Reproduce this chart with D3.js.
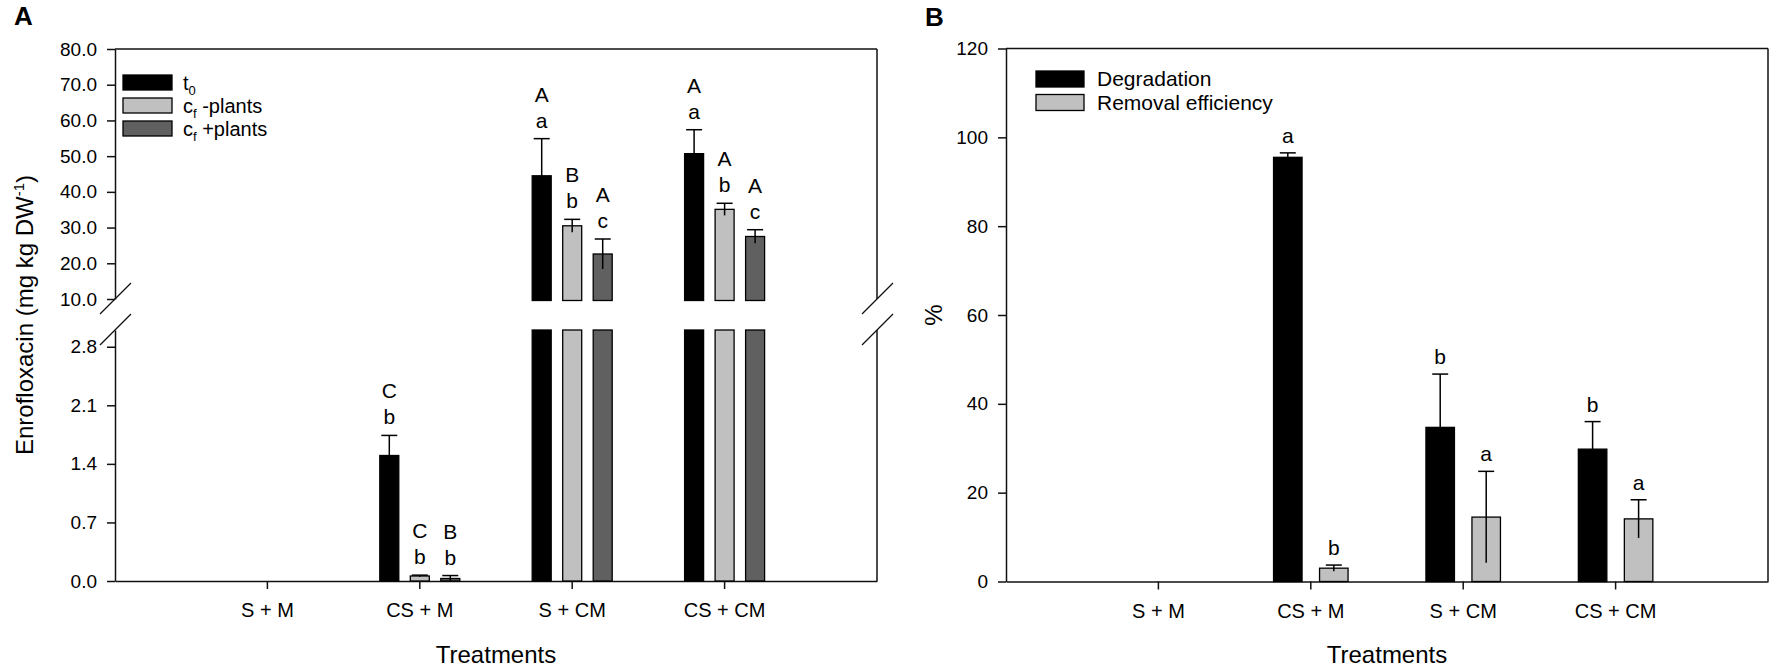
<!DOCTYPE html>
<html>
<head>
<meta charset="utf-8">
<script src="https://cdnjs.cloudflare.com/ajax/libs/d3/7.8.5/d3.min.js"></script>
<style>
  body { margin: 0; background: #fff; }
  svg { font-family: "Liberation Sans", Arial, sans-serif; }
  .axis path, .axis line { stroke: #111; stroke-width: 1.5; }
  .axis text { font-size: 19px; fill: #000; }
</style>
</head>
<body>
<svg id="chart" width="1772" height="669"></svg>
<script>
// ---- data ----
var categories = ["S + M", "CS + M", "S + CM", "CS + CM"];

// panel A: enrofloxacin (mg kg DW-1)
var t0Values      = [0, 1.50, 44.5, 50.7];
var t0Errors      = [0, 0.24, 10.4, 6.7];
var cfMinusValues = [0, 0.06, 30.5, 35.1];
var cfMinusErrors = [0, 0.01, 1.8, 1.7];
var cfPlusValues  = [0, 0.03, 22.6, 27.5];
var cfPlusErrors  = [0, 0.035, 4.2, 1.9];
var t0Upper       = ["", "C", "A", "A"];
var t0Lower       = ["", "b", "a", "a"];
var cfMinusUpper  = ["", "C", "B", "A"];
var cfMinusLower  = ["", "b", "b", "b"];
var cfPlusUpper   = ["", "B", "A", "A"];
var cfPlusLower   = ["", "b", "c", "c"];
var upperTicksA = [10, 20, 30, 40, 50, 60, 70, 80];
var lowerTicksA = [0, 0.7, 1.4, 2.1, 2.8];
var legendA = [["t", "0", ""], ["c", "f", " -plants"], ["c", "f", " +plants"]];

// panel B: %
var degradationValues = [0, 95.5, 34.7, 29.8];
var degradationErrors = [0, 1.0, 12.0, 6.2];
var removalValues     = [0, 3.0, 14.5, 14.1];
var removalErrors     = [0, 0.7, 10.3, 4.3];
var degradationLetters = ["", "a", "b", "b"];
var removalLetters     = ["", "b", "a", "a"];
var ticksB = [0, 20, 40, 60, 80, 100, 120];
var legendB = ["Degradation", "Removal efficiency"];

var svg = d3.select("#chart");

var seriesA = [
    { values: t0Values, errors: t0Errors, up: t0Upper, low: t0Lower, fill: "#000000" },
    { values: cfMinusValues, errors: cfMinusErrors, up: cfMinusUpper, low: cfMinusLower, fill: "#c0c0c0" },
    { values: cfPlusValues, errors: cfPlusErrors, up: cfPlusUpper, low: cfPlusLower, fill: "#606060" }
];
var seriesB = [
    { values: degradationValues, errors: degradationErrors, low: degradationLetters, fill: "#000000" },
    { values: removalValues, errors: removalErrors, low: removalLetters, fill: "#c0c0c0" }
];

function drawCap(g, x, y1, y2) {
    g.append("line").attr("x1", x).attr("x2", x).attr("y1", y1).attr("y2", y2)
        .attr("stroke", "#000").attr("stroke-width", 1.5);
    g.append("line").attr("x1", x - 8).attr("x2", x + 8).attr("y1", y2).attr("y2", y2)
        .attr("stroke", "#000").attr("stroke-width", 1.5);
}

function slash(g, x, y) {
    g.append("line").attr("x1", x - 15).attr("y1", y + 15).attr("x2", x + 16).attr("y2", y - 16)
        .attr("stroke", "#111").attr("stroke-width", 1.3);
}

// ================= Panel A =================
var gA = svg.append("g");
var xA = d3.scaleBand().domain(categories).range([115, 877]).paddingInner(0).paddingOuter(0.5);
var subA = d3.scalePoint().domain([0, 1, 2]).range([-30.5, 30.5]);
var yUp = d3.scaleLinear().domain([10, 80]).range([299, 49]);
var yLow = d3.scaleLinear().domain([0, 3.0]).range([581, 330]);
var barW = 19;

gA.append("g").attr("class", "axis").attr("transform", "translate(115,0)")
    .call(d3.axisLeft(yUp).tickValues(upperTicksA).tickFormat(d3.format(".1f")).tickSize(8).tickSizeOuter(0).tickPadding(10));
gA.append("g").attr("class", "axis").attr("transform", "translate(115,0)")
    .call(d3.axisLeft(yLow).tickValues(lowerTicksA).tickFormat(d3.format(".1f")).tickSize(8).tickSizeOuter(0).tickPadding(10));
gA.append("g").attr("class", "axis").attr("transform", "translate(0,581)")
    .call(d3.axisBottom(xA).tickSize(8).tickSizeOuter(0).tickPadding(14))
    .selectAll("text").style("font-size", "20px");

// frame: top and right (with break)
var xr = xA.range()[1];
gA.append("line").attr("x1", 115).attr("x2", xr).attr("y1", yUp(80)).attr("y2", yUp(80)).attr("stroke", "#111").attr("stroke-width", 1.5);
gA.append("line").attr("x1", xr).attr("x2", xr).attr("y1", yUp(80)).attr("y2", yUp(10)).attr("stroke", "#111").attr("stroke-width", 1.5);
gA.append("line").attr("x1", xr).attr("x2", xr).attr("y1", yLow(3)).attr("y2", yLow(0)).attr("stroke", "#111").attr("stroke-width", 1.5);
[115, xr].forEach(function(x) {
    slash(gA, x, yUp(10));
    slash(gA, x, yLow(3));
});

seriesA.forEach(function(s, si) {
    categories.forEach(function(c, ci) {
        var v = s.values[ci], e = s.errors[ci];
        if (v <= 0) return;
        var cx = xA(c) + xA.bandwidth() / 2 + subA(si);
        var capY;
        if (v > 10) {
            gA.append("rect").attr("x", cx - barW / 2).attr("width", barW)
                .attr("y", yUp(v)).attr("height", yUp(10) - yUp(v) + 1.5)
                .attr("fill", s.fill).attr("stroke", "#000").attr("stroke-width", 1.3);
            gA.append("rect").attr("x", cx - barW / 2).attr("width", barW)
                .attr("y", yLow(3)).attr("height", yLow(0) - yLow(3))
                .attr("fill", s.fill).attr("stroke", "#000").attr("stroke-width", 1.3);
            capY = yUp(v + e);
            drawCap(gA, cx, yUp(v - e), capY);
        } else {
            gA.append("rect").attr("x", cx - barW / 2).attr("width", barW)
                .attr("y", yLow(v)).attr("height", yLow(0) - yLow(v))
                .attr("fill", s.fill).attr("stroke", "#000").attr("stroke-width", 1.3);
            capY = yLow(v + e);
            drawCap(gA, cx, yLow(Math.max(v - e, 0)), capY);
        }
        gA.append("text").attr("x", cx).attr("y", capY - 11).attr("text-anchor", "middle")
            .style("font-size", "21px").text(s.low[ci]);
        gA.append("text").attr("x", cx).attr("y", capY - 37).attr("text-anchor", "middle")
            .style("font-size", "21px").text(s.up[ci]);
    });
});

// legend A
legendA.forEach(function(l, i) {
    gA.append("rect").attr("x", 123).attr("y", 75 + i * 23).attr("width", 49).attr("height", 15)
        .attr("fill", seriesA[i].fill).attr("stroke", "#000").attr("stroke-width", 1.3);
    var t = gA.append("text").attr("x", 183).attr("y", 90 + i * 23).style("font-size", "20px");
    t.append("tspan").text(l[0]);
    t.append("tspan").attr("dy", 5).style("font-size", "13px").text(l[1]);
    t.append("tspan").attr("dy", -5).text(l[2]);
});

// titles A
var yt = gA.append("text").attr("transform", "translate(33,315) rotate(-90)")
    .attr("text-anchor", "middle").style("font-size", "24px");
yt.append("tspan").text("Enrofloxacin (mg kg DW");
yt.append("tspan").attr("dy", -9).style("font-size", "15px").text("-1");
yt.append("tspan").attr("dy", 9).text(")");
gA.append("text").attr("x", (115 + xr) / 2).attr("y", 663).attr("text-anchor", "middle")
    .style("font-size", "24px").text("Treatments");
gA.append("text").attr("x", 14).attr("y", 25).style("font-size", "26px").style("font-weight", "bold").text("A");

// ================= Panel B =================
var gB = svg.append("g");
var xB = d3.scaleBand().domain(categories).range([1006, 1768]).paddingInner(0).paddingOuter(0.5);
var subB = d3.scalePoint().domain([0, 1]).range([-23, 23]);
var yB = d3.scaleLinear().domain([0, 120]).range([581.5, 48.5]);
var barWB = 28.5;

gB.append("g").attr("class", "axis").attr("transform", "translate(1006,0)")
    .call(d3.axisLeft(yB).tickValues(ticksB).tickSize(8).tickSizeOuter(0).tickPadding(10));
gB.append("g").attr("class", "axis").attr("transform", "translate(0,581.5)")
    .call(d3.axisBottom(xB).tickSize(8).tickSizeOuter(0).tickPadding(14))
    .selectAll("text").style("font-size", "20px");
gB.append("line").attr("x1", 1006).attr("x2", 1768).attr("y1", yB(120)).attr("y2", yB(120)).attr("stroke", "#111").attr("stroke-width", 1.5);
gB.append("line").attr("x1", 1768).attr("x2", 1768).attr("y1", yB(120)).attr("y2", yB(0)).attr("stroke", "#111").attr("stroke-width", 1.5);

seriesB.forEach(function(s, si) {
    categories.forEach(function(c, ci) {
        var v = s.values[ci], e = s.errors[ci];
        if (v <= 0) return;
        var cx = xB(c) + xB.bandwidth() / 2 + subB(si);
        gB.append("rect").attr("x", cx - barWB / 2).attr("width", barWB)
            .attr("y", yB(v)).attr("height", yB(0) - yB(v))
            .attr("fill", s.fill).attr("stroke", "#000").attr("stroke-width", 1.3);
        var capY = yB(v + e);
        drawCap(gB, cx, yB(Math.max(v - e, 0)), capY);
        gB.append("text").attr("x", cx).attr("y", capY - 10).attr("text-anchor", "middle")
            .style("font-size", "21px").text(s.low[ci]);
    });
});

legendB.forEach(function(l, i) {
    gB.append("rect").attr("x", 1036).attr("y", 71 + i * 23.5).attr("width", 48).attr("height", 16)
        .attr("fill", seriesB[i].fill).attr("stroke", "#000").attr("stroke-width", 1.3);
    gB.append("text").attr("x", 1097).attr("y", 86 + i * 23.5).style("font-size", "21px").text(l);
});

gB.append("text").attr("transform", "translate(942,315) rotate(-90)")
    .attr("text-anchor", "middle").style("font-size", "24px").text("%");
gB.append("text").attr("x", 1387).attr("y", 663).attr("text-anchor", "middle")
    .style("font-size", "24px").text("Treatments");
gB.append("text").attr("x", 925).attr("y", 26).style("font-size", "26px").style("font-weight", "bold").text("B");
</script>
</body>
</html>
